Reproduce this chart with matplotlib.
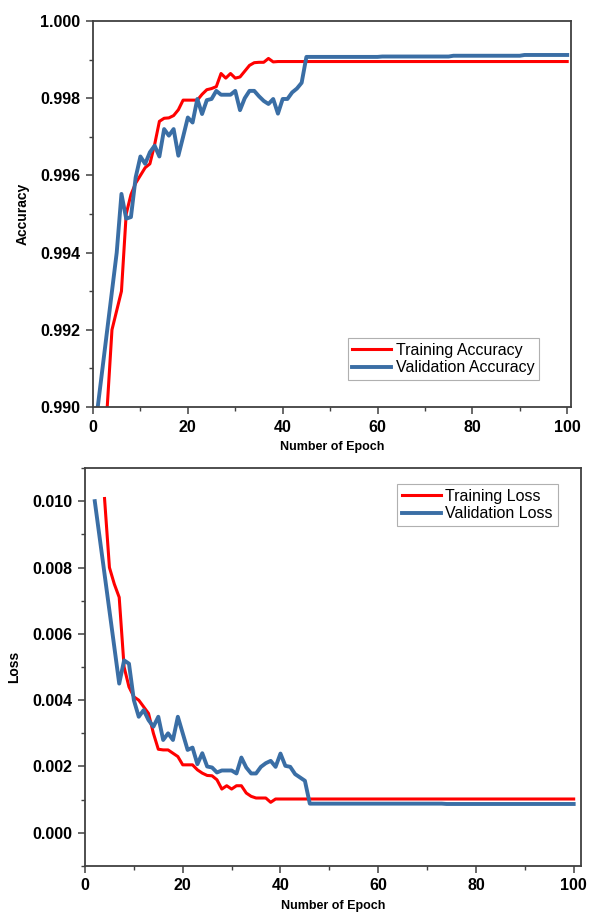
import matplotlib
matplotlib.use("Agg")
import matplotlib.pyplot as plt
from matplotlib.ticker import MultipleLocator, FormatStrFormatter

plt.rcParams['font.family'] = ['Liberation Sans', 'DejaVu Sans']

# accuracy curves
train_acc_epochs = list(range(3, 101))
train_acc = [0.9900, 0.9920, 0.9925, 0.9930, 0.9950, 0.9955, 0.9958, 0.9960,
             0.9962, 0.9963, 0.9968, 0.9974, 0.99748, 0.99749, 0.99755, 0.9977,
             0.99795, 0.99795, 0.99795, 0.99795, 0.9981, 0.99822, 0.99825, 0.9983,
             0.99864, 0.99852, 0.99864, 0.99852, 0.99855, 0.9987, 0.99885, 0.99892,
             0.99893, 0.99893, 0.99903, 0.99894] + [0.99895] * 62

val_acc_epochs = list(range(1, 101))
val_acc = [0.9900, 0.9910, 0.9920, 0.9930, 0.9940, 0.99552, 0.99488, 0.99492,
           0.99595, 0.99649, 0.9963, 0.9966, 0.99677, 0.99649, 0.9972, 0.99703,
           0.9972, 0.99651, 0.9970, 0.9975, 0.99737, 0.99798, 0.99759, 0.99795,
           0.99798, 0.99819, 0.99809, 0.99809, 0.99809, 0.99819, 0.99769, 0.99800,
           0.99819, 0.99819, 0.99805, 0.99793, 0.99785, 0.99798, 0.9976, 0.99798,
           0.99798, 0.99815, 0.99825, 0.9984, 0.99907] \
          + [0.99907] * 15 + [0.99908] * 15 + [0.99910] * 15 + [0.99912] * 10

# loss curves
train_loss_epochs = list(range(4, 101))
train_loss = [0.01008, 0.0080, 0.0075, 0.0071, 0.0050, 0.0044, 0.0041, 0.0040,
              0.0038, 0.0036, 0.0030, 0.00252, 0.0025, 0.0025, 0.0024, 0.0023,
              0.00205, 0.00205, 0.00205, 0.0019, 0.0018, 0.00173, 0.00172, 0.0016,
              0.00132, 0.00142, 0.00132, 0.00142, 0.00142, 0.0012, 0.0011, 0.00105,
              0.00105, 0.00105, 0.00092, 0.00102] + [0.00102] * 61

val_loss_epochs = list(range(2, 101))
val_loss = [0.0100, 0.0089, 0.0078, 0.0067, 0.0056, 0.0045, 0.0052, 0.0051,
            0.0040, 0.0035, 0.0037, 0.0034, 0.0032, 0.0035, 0.0028, 0.0030,
            0.0028, 0.0035, 0.0030, 0.0025, 0.00257, 0.00207, 0.0024, 0.0020,
            0.00197, 0.00182, 0.00188, 0.00188, 0.00188, 0.00179, 0.00227, 0.00197,
            0.00179, 0.00179, 0.00199, 0.0021, 0.00217, 0.00199, 0.00239, 0.00202,
            0.00199, 0.00177, 0.00167, 0.00157, 0.00088] \
           + [0.00088] * 27 + [0.00087] * 27

RED = '#ff0000'
BLUE = '#3a6ea5'
SPINE = '#404040'

fig = plt.figure(figsize=(5.89, 9.15), dpi=100)
ax1 = fig.add_axes([93 / 589, 1 - 407 / 915, (571 - 93) / 589, (407 - 21) / 915])
ax2 = fig.add_axes([85 / 589, 1 - 866 / 915, (581 - 85) / 589, (866 - 468) / 915])


def style(ax):
    for s in ax.spines.values():
        s.set_color(SPINE)
        s.set_linewidth(1.3)
    ax.tick_params(which='major', direction='out', length=5, width=1.1,
                   color=SPINE, labelsize=11.5, pad=4)
    ax.tick_params(which='minor', direction='out', length=3, width=1.0, color=SPINE)
    for lab in ax.get_xticklabels() + ax.get_yticklabels():
        lab.set_fontweight('bold')


def legend(ax, loc, anchor):
    leg = ax.legend(loc=loc, bbox_to_anchor=anchor, borderaxespad=0,
                    fontsize=11.5, handlelength=2.4, handletextpad=0.3,
                    borderpad=0.3, labelspacing=0.15, fancybox=False, framealpha=1)
    leg.get_frame().set_edgecolor('#b0b0b0')
    leg.get_frame().set_linewidth(0.8)


# top: accuracy
ax1.plot(train_acc_epochs, train_acc, color=RED, lw=2.2, label='Training Accuracy',
         solid_joinstyle='round')
ax1.plot(val_acc_epochs, val_acc, color=BLUE, lw=2.8, label='Validation Accuracy',
         solid_joinstyle='round')
ax1.set_xlim(0, 100.8)
ax1.set_ylim(0.990, 1.000)
ax1.xaxis.set_major_locator(MultipleLocator(20))
ax1.xaxis.set_minor_locator(MultipleLocator(10))
ax1.yaxis.set_major_locator(MultipleLocator(0.002))
ax1.yaxis.set_minor_locator(MultipleLocator(0.001))
ax1.yaxis.set_major_formatter(FormatStrFormatter('%.3f'))
ax1.set_xlabel('Number of Epoch', fontsize=9, fontweight='bold', labelpad=5)
ax1.set_ylabel('Accuracy', fontsize=10, fontweight='bold', labelpad=8)
style(ax1)
legend(ax1, 'lower right', (0.933, 0.07))

# bottom: loss
ax2.plot(train_loss_epochs, train_loss, color=RED, lw=2.2, label='Training Loss',
         solid_joinstyle='round')
ax2.plot(val_loss_epochs, val_loss, color=BLUE, lw=2.8, label='Validation Loss',
         solid_joinstyle='round')
ax2.set_xlim(0, 101.5)
ax2.set_ylim(-0.001, 0.011)
ax2.xaxis.set_major_locator(MultipleLocator(20))
ax2.xaxis.set_minor_locator(MultipleLocator(10))
ax2.yaxis.set_major_locator(MultipleLocator(0.002))
ax2.yaxis.set_minor_locator(MultipleLocator(0.001))
ax2.yaxis.set_major_formatter(FormatStrFormatter('%.3f'))
ax2.set_xlabel('Number of Epoch', fontsize=9, fontweight='bold', labelpad=5)
ax2.set_ylabel('Loss', fontsize=10, fontweight='bold', labelpad=8)
style(ax2)
legend(ax2, 'upper right', (0.953, 0.96))

fig.savefig('out.png', dpi=100)
